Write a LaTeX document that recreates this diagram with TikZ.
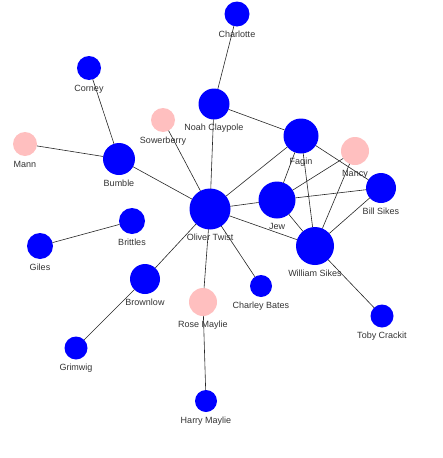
\documentclass[tikz,border=0pt]{standalone}
\usepackage{fontspec}
\setmainfont{Liberation Sans}
\usetikzlibrary{positioning}

\begin{document}
\begin{tikzpicture}[x=1pt,y=-1pt,
  v/.style={circle,fill=blue,inner sep=0pt,outer sep=0pt,minimum size=#1},
  p/.style={v=#1,fill=pink},
  every label/.style={font=\fontsize{9}{10}\selectfont,text=black!80,inner sep=0pt,text height=6.5pt,text depth=1.5pt},
  label distance=4.5pt, edge/.style={line width=.6pt,black!85}]
\useasboundingbox (0,0) rectangle (442,458);
% people
\node[v=25pt,label=below:Charlotte] (charlotte) at (237,14) {};
\node[v=31pt,label=below:Noah Claypole] (noah) at (214,104) {};
\node[v=35pt,label=below:Fagin] (fagin) at (301,136) {};
\node[p=28pt,label=below:Nancy] (nancy) at (355,151) {};
\node[v=30pt,label=below:Bill Sikes] (bill) at (381,188) {};
\node[v=37pt,label=below:Jew] (jew) at (277,200) {};
\node[v=38pt,label=below:William Sikes] (william) at (315,246) {};
\node[v=41pt,label=below:Oliver Twist] (oliver) at (210,209) {};
\node[v=32pt,label=below:Bumble] (bumble) at (119,159) {};
\node[v=24pt,label=below:Corney] (corney) at (89,68) {};
\node[p=24pt,label=below:Mann] (mann) at (25,144) {};
\node[p=24pt,label=below:Sowerberry] (sowerberry) at (163,120) {};
\node[v=26pt,label=below:Brittles] (brittles) at (132,221) {};
\node[v=26pt,label=below:Giles] (giles) at (40,246) {};
\node[v=30pt,label=below:Brownlow] (brownlow) at (145,279) {};
\node[v=23pt,label=below:Grimwig] (grimwig) at (76,348) {};
\node[p=28pt,label=below:Rose Maylie] (rose) at (203,302) {};
\node[v=22pt,label=below:Charley Bates] (charley) at (261,286) {};
\node[v=23pt,label=below:Toby Crackit] (toby) at (382,316) {};
\node[v=22pt,label=below:Harry Maylie] (harry) at (206,401) {};
% links
\foreach \a/\b in {charlotte/noah,noah/oliver,noah/fagin,corney/bumble,mann/bumble,
  bumble/oliver,sowerberry/oliver,brittles/giles,oliver/brownlow,brownlow/grimwig,
  oliver/rose,rose/harry,oliver/charley,oliver/jew,oliver/william,oliver/fagin,
  fagin/jew,fagin/william,fagin/bill,nancy/jew,nancy/william,jew/bill,jew/william,
  william/bill,william/toby}
  \draw[edge] (\a)--(\b);
\end{tikzpicture}
\end{document}
